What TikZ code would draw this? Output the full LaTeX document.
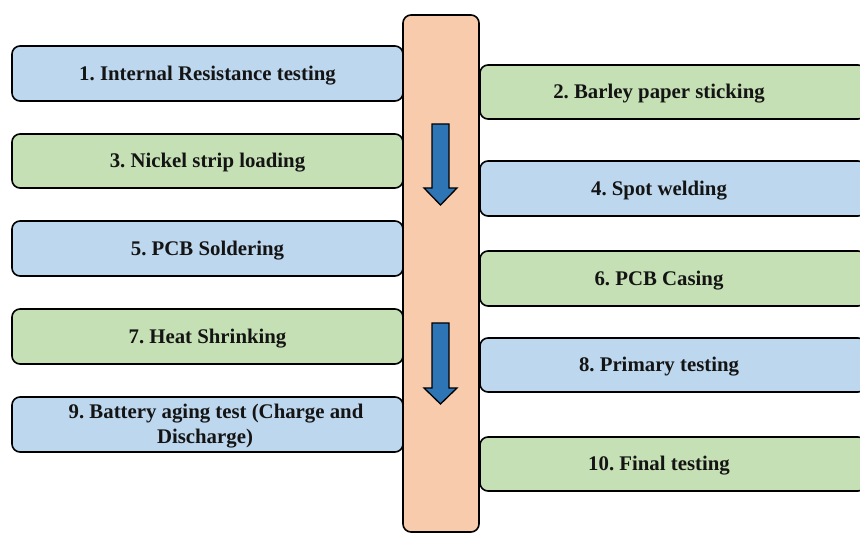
\documentclass[tikz,border=0pt]{standalone}
\usepackage{fontspec}
\setmainfont{Liberation Serif}
\frenchspacing
\definecolor{stepblue}{HTML}{BDD7EE}
\definecolor{stepgreen}{HTML}{C5E0B4}
\definecolor{barfill}{HTML}{F8CBAD}
\definecolor{arrowblue}{HTML}{2E75B6}
\begin{document}
\begin{tikzpicture}[x=1pt,y=-1pt,
  stepbox/.style={draw=black, line width=1.6pt, rounded corners=8pt},
  steptext/.style={font=\bfseries\fontsize{20.8}{25}\selectfont, align=center, text=black!92, yshift=-2pt},
  downarrow/.style={draw=black, line width=1.3pt, fill=arrowblue}]
\useasboundingbox (0,0) rectangle (860,534);
% central flow bar
\draw[stepbox, fill=barfill] (403,15) rectangle (479,532);
% left column
\draw[stepbox, fill=stepblue]  (12,46)  rectangle (403,101);
\node[steptext] (s1) at (207.5,73.5) {1. Internal Resistance testing};
\draw[stepbox, fill=stepgreen] (12,134) rectangle (403,188);
\node[steptext] (s3) at (207.5,161) {3. Nickel strip loading};
\draw[stepbox, fill=stepblue]  (12,221) rectangle (403,276);
\node[steptext] (s5) at (207.5,248.5) {5. PCB Soldering};
\draw[stepbox, fill=stepgreen] (12,309) rectangle (403,364);
\node[steptext] (s7) at (207.5,336.5) {7. Heat Shrinking};
\draw[stepbox, fill=stepblue]  (12,397) rectangle (403,452);
\node[steptext] (s9) at (216,424.5) {9. Battery aging test (Charge and\\Discharge)\hspace*{22pt}};
% right column
\draw[stepbox, fill=stepgreen] (480,65)  rectangle (866,119);
\node[steptext] (s2) at (659,92) {2. Barley paper sticking};
\draw[stepbox, fill=stepblue]  (480,161) rectangle (866,216);
\node[steptext] (s4) at (659,188.5) {4. Spot welding};
\draw[stepbox, fill=stepgreen] (480,251) rectangle (866,306);
\node[steptext] (s6) at (659,278.5) {6. PCB Casing};
\draw[stepbox, fill=stepblue]  (480,338) rectangle (866,392);
\node[steptext] (s8) at (659,365) {8. Primary testing};
\draw[stepbox, fill=stepgreen] (480,437) rectangle (866,491);
\node[steptext] (s10) at (659,464) {10. Final testing};
% downward arrows on the bar
\draw[downarrow] (432,124) -- (449,124) -- (449,188) -- (457,188) -- (440.5,205)
  -- (424,188) -- (432,188) -- cycle;
\draw[downarrow] (432,323) -- (449,323) -- (449,388) -- (457,388) -- (440.5,404)
  -- (424,388) -- (432,388) -- cycle;
\end{tikzpicture}
\end{document}
